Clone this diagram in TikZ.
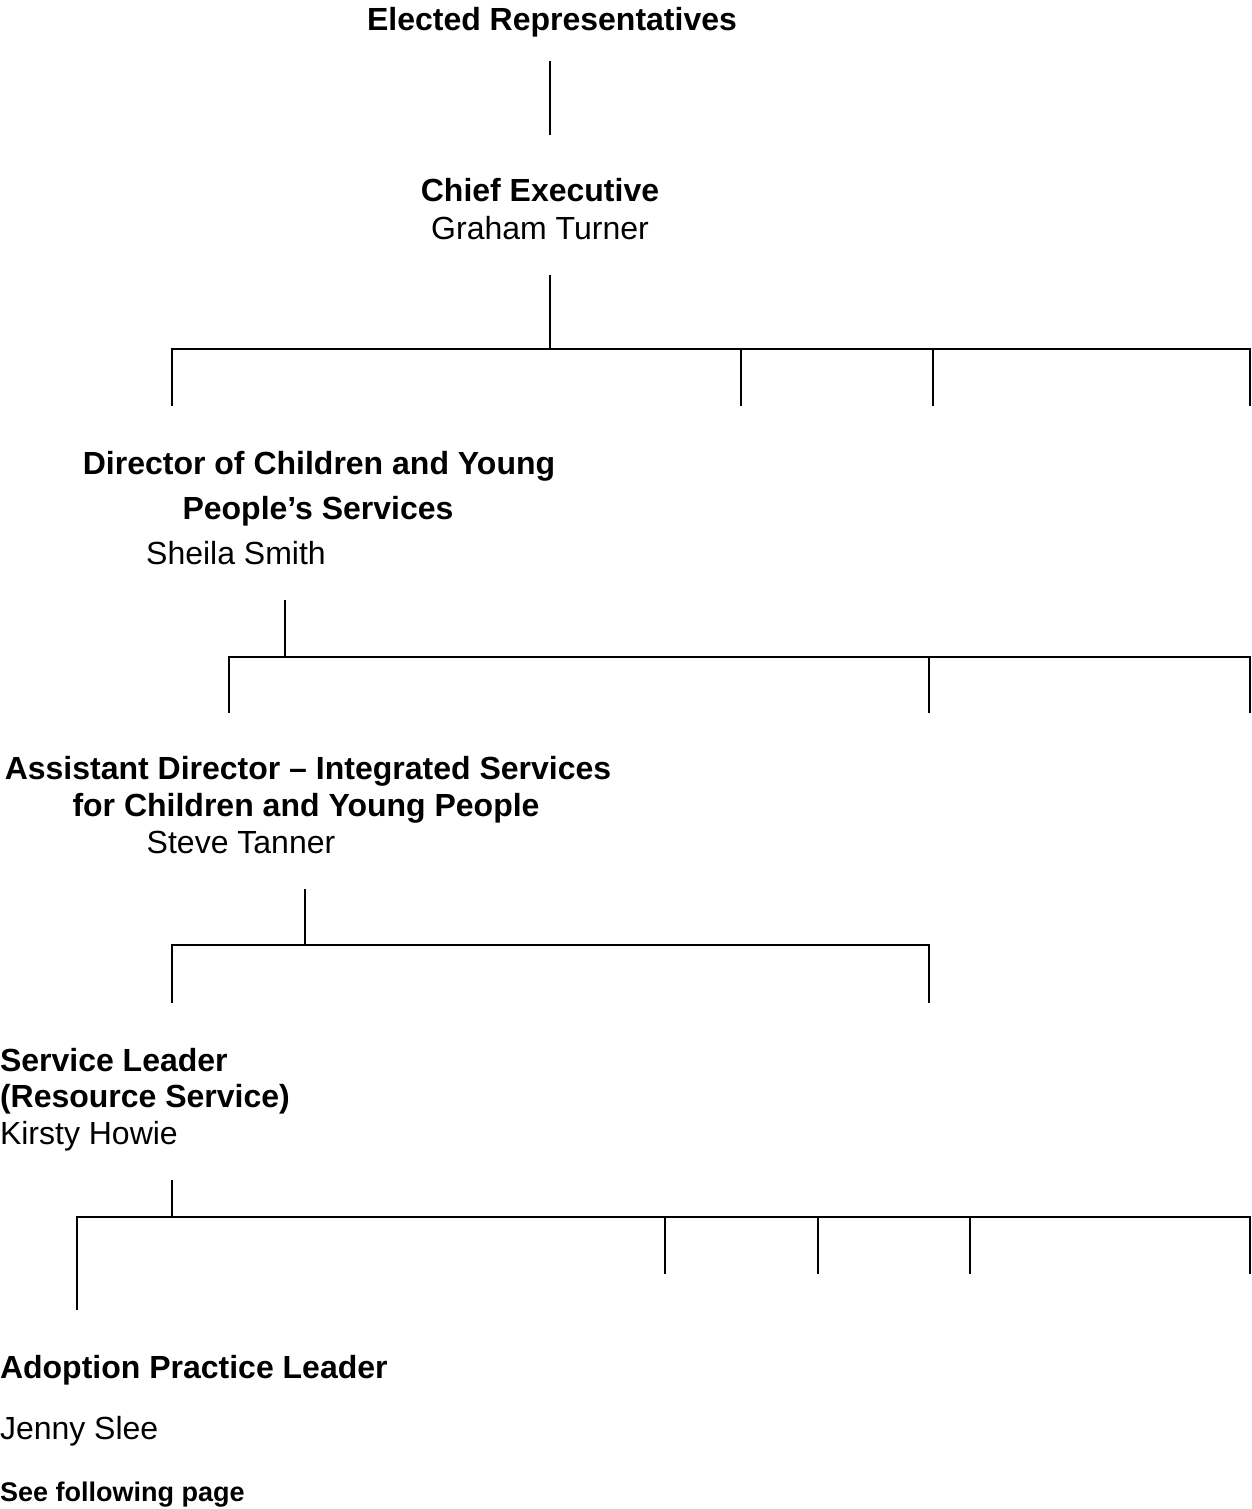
\documentclass[tikz,border=0pt]{standalone}
\usepackage{fontspec}
\setmainfont{Liberation Sans}
\begin{document}
\begin{tikzpicture}[x=1pt,y=-1pt,
  every node/.style={inner sep=0pt,outer sep=0pt},
  heading/.style={font=\fontsize{32}{38}\selectfont\bfseries,anchor=base},
  person/.style={font=\fontsize{32}{38}\selectfont,anchor=base},
  remark/.style={font=\fontsize{27}{32}\selectfont\bfseries,anchor=base west},
  link/.style={line width=2pt,line cap=rect}]
\useasboundingbox (0,0) rectangle (1251,1509);

% Titles and names
\node[heading] (er) at (552,31) {Elected Representatives};
\node[heading] (ce) at (540,201) {Chief Executive};
\node[person]  (gt) at (540,239) {Graham Turner};
\node[heading] (d1) at (319,474) {Director of Children and Young};
\node[heading] (d2) at (318,519) {People’s Services};
\node[person]  (ss) at (236,564) {Sheila Smith};
\node[heading] (a1) at (308,779) {Assistant Director – Integrated Services};
\node[heading] (a2) at (306,816) {for Children and Young People};
\node[person]  (st) at (241,853) {Steve Tanner};
\node[heading,anchor=base west] (s1) at (0,1071) {Service Leader};
\node[heading,anchor=base west] (s2) at (0,1107) {(Resource Service)};
\node[person,anchor=base west]  (kh) at (0,1144) {Kirsty Howie};
\node[heading,anchor=base west] (ap) at (0,1378) {Adoption Practice Leader};
\node[person,anchor=base west]  (js) at (0,1439) {Jenny Slee};
\node[remark] (sf) at (0,1501) {See following page};

% Level 1
\coordinate (l1a) at (550,62);
\coordinate (l1b) at (550,134);
\draw[link] (l1a) -- (l1b);

% Level 2
\coordinate (l2a) at (550,276);
\coordinate (l2b) at (550,349);
\coordinate (l2l) at (172,349);
\coordinate (l2r) at (1250,349);
\draw[link] (l2a) -- (l2b);
\draw[link] (l2l) -- (l2r);
\foreach \x in {172,741,933,1250}
  \draw[link] (\x,349) -- (\x,405);

% Level 3
\coordinate (l3a) at (285,601);
\coordinate (l3b) at (285,657);
\coordinate (l3l) at (229,657);
\coordinate (l3r) at (1250,657);
\draw[link] (l3a) -- (l3b);
\draw[link] (l3l) -- (l3r);
\foreach \x in {229,929,1250}
  \draw[link] (\x,657) -- (\x,712);

% Level 4
\coordinate (l4a) at (305,890);
\coordinate (l4b) at (305,945);
\coordinate (l4l) at (172,945);
\coordinate (l4r) at (929,945);
\draw[link] (l4a) -- (l4b);
\draw[link] (l4l) -- (l4r);
\foreach \x in {172,929}
  \draw[link] (\x,945) -- (\x,1002);

% Level 5
\coordinate (l5a) at (172,1181);
\coordinate (l5b) at (172,1217);
\coordinate (l5l) at (77,1217);
\coordinate (l5r) at (1250,1217);
\coordinate (l5d) at (77,1309);
\draw[link] (l5a) -- (l5b);
\draw[link] (l5l) -- (l5r);
\draw[link] (l5l) -- (l5d);
\foreach \x in {665,818,970,1250}
  \draw[link] (\x,1217) -- (\x,1273);
\end{tikzpicture}
\end{document}
